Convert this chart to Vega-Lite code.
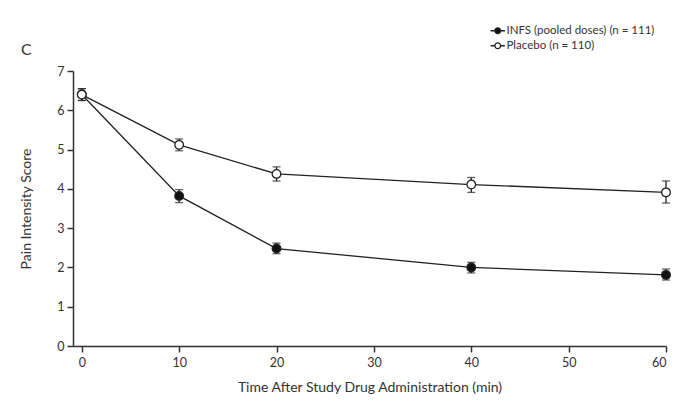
{
  "$schema": "https://vega.github.io/schema/vega-lite/v6.json",
  "width": 593,
  "height": 275,
  "autosize": {"type": "none"},
  "padding": {"left": 73, "top": 71, "right": 27, "bottom": 64},
  "background": "white",
  "title": {"text": "C", "anchor": "start", "frame": "group", "dx": -52, "dy": 43, "fontSize": 16, "font": "Lato", "fontWeight": "normal", "color": "#333", "offset": 10},
  "config": {
    "view": {"stroke": null},
    "font": "Lato",
    "axis": {"domainColor": "#333", "domainWidth": 1.5, "tickColor": "#333", "tickWidth": 1.5, "tickSize": 6, "labelColor": "#333", "labelFontSize": 12.5, "titleColor": "#333", "titleFontSize": 14, "titleFontWeight": "normal", "grid": false, "labelFont": "Lato", "titleFont": "Lato", "labelOverlap": false}
  },
  "data": {"values": [
    {"t": 0, "group": "INFS (pooled doses) (n = 111)", "mean": 6.4, "lo": 6.25, "hi": 6.55},
    {"t": 10, "group": "INFS (pooled doses) (n = 111)", "mean": 3.82, "lo": 3.65, "hi": 3.98},
    {"t": 20, "group": "INFS (pooled doses) (n = 111)", "mean": 2.48, "lo": 2.35, "hi": 2.62},
    {"t": 40, "group": "INFS (pooled doses) (n = 111)", "mean": 2.0, "lo": 1.86, "hi": 2.13},
    {"t": 60, "group": "INFS (pooled doses) (n = 111)", "mean": 1.81, "lo": 1.68, "hi": 1.96},
    {"t": 0, "group": "Placebo (n = 110)", "mean": 6.4, "lo": 6.25, "hi": 6.55},
    {"t": 10, "group": "Placebo (n = 110)", "mean": 5.12, "lo": 4.97, "hi": 5.27},
    {"t": 20, "group": "Placebo (n = 110)", "mean": 4.38, "lo": 4.2, "hi": 4.56},
    {"t": 40, "group": "Placebo (n = 110)", "mean": 4.11, "lo": 3.91, "hi": 4.29},
    {"t": 60, "group": "Placebo (n = 110)", "mean": 3.91, "lo": 3.64, "hi": 4.2}
  ]},
  "layer": [
    {
      "mark": {"type": "line", "color": "#222", "strokeWidth": 1.3},
      "encoding": {
        "x": {"field": "t", "type": "quantitative", "scale": {"domain": [-0.9, 60], "nice": false, "zero": false}, "axis": {"values": [0, 10, 20, 30, 40, 50, 60], "title": "Time After Study Drug Administration (min)", "titlePadding": 12, "labelPadding": 4}},
        "y": {"field": "mean", "type": "quantitative", "scale": {"domain": [0, 7], "nice": false}, "axis": {"values": [0, 1, 2, 3, 4, 5, 6, 7], "title": "Pain Intensity Score", "titlePadding": 23, "labelPadding": 3}},
        "detail": {"field": "group"}
      }
    },
    {
      "mark": {"type": "rule", "color": "#222", "strokeWidth": 1.3},
      "encoding": {
        "x": {"field": "t", "type": "quantitative", "axis": {"values": [0, 10, 20, 30, 40, 50, 60], "title": "Time After Study Drug Administration (min)", "titlePadding": 12, "labelPadding": 4}},
        "y": {"field": "lo", "type": "quantitative", "axis": {"values": [0, 1, 2, 3, 4, 5, 6, 7], "title": "Pain Intensity Score", "titlePadding": 23, "labelPadding": 3}},
        "y2": {"field": "hi"}
      }
    },
    {
      "mark": {"type": "tick", "color": "#222", "orient": "horizontal", "size": 8, "thickness": 1.3},
      "encoding": {
        "x": {"field": "t", "type": "quantitative", "axis": {"values": [0, 10, 20, 30, 40, 50, 60], "title": "Time After Study Drug Administration (min)", "titlePadding": 12, "labelPadding": 4}},
        "y": {"field": "lo", "type": "quantitative", "axis": {"values": [0, 1, 2, 3, 4, 5, 6, 7], "title": "Pain Intensity Score", "titlePadding": 23, "labelPadding": 3}}
      }
    },
    {
      "mark": {"type": "tick", "color": "#222", "orient": "horizontal", "size": 8, "thickness": 1.3},
      "encoding": {
        "x": {"field": "t", "type": "quantitative", "axis": {"values": [0, 10, 20, 30, 40, 50, 60], "title": "Time After Study Drug Administration (min)", "titlePadding": 12, "labelPadding": 4}},
        "y": {"field": "hi", "type": "quantitative", "axis": {"values": [0, 1, 2, 3, 4, 5, 6, 7], "title": "Pain Intensity Score", "titlePadding": 23, "labelPadding": 3}}
      }
    },
    {
      "mark": {"type": "point", "filled": false, "size": 75, "stroke": "#222", "strokeWidth": 1.3, "opacity": 1},
      "encoding": {
        "x": {"field": "t", "type": "quantitative", "axis": {"values": [0, 10, 20, 30, 40, 50, 60], "title": "Time After Study Drug Administration (min)", "titlePadding": 12, "labelPadding": 4}},
        "y": {"field": "mean", "type": "quantitative", "axis": {"values": [0, 1, 2, 3, 4, 5, 6, 7], "title": "Pain Intensity Score", "titlePadding": 23, "labelPadding": 3}},
        "fill": {"field": "group", "type": "nominal", "scale": {"domain": ["INFS (pooled doses) (n = 111)", "Placebo (n = 110)"], "range": ["#111", "white"]},
          "legend": {"title": null, "orient": "none", "legendX": 419, "legendY": -46, "symbolType": "M -1.6 0 H -0.65 M 0.65 0 H 1.6 M 0.65 0 A 0.65 0.65 0 1 1 -0.65 0 A 0.65 0.65 0 1 1 0.65 0", "symbolSize": 80, "symbolStrokeColor": "#222", "symbolStrokeWidth": 1.3, "symbolOpacity": 1, "labelFontSize": 11.5, "labelColor": "#333", "labelFont": "Lato", "rowPadding": 2, "labelOffset": 3}}
      }
    }
  ]
}
